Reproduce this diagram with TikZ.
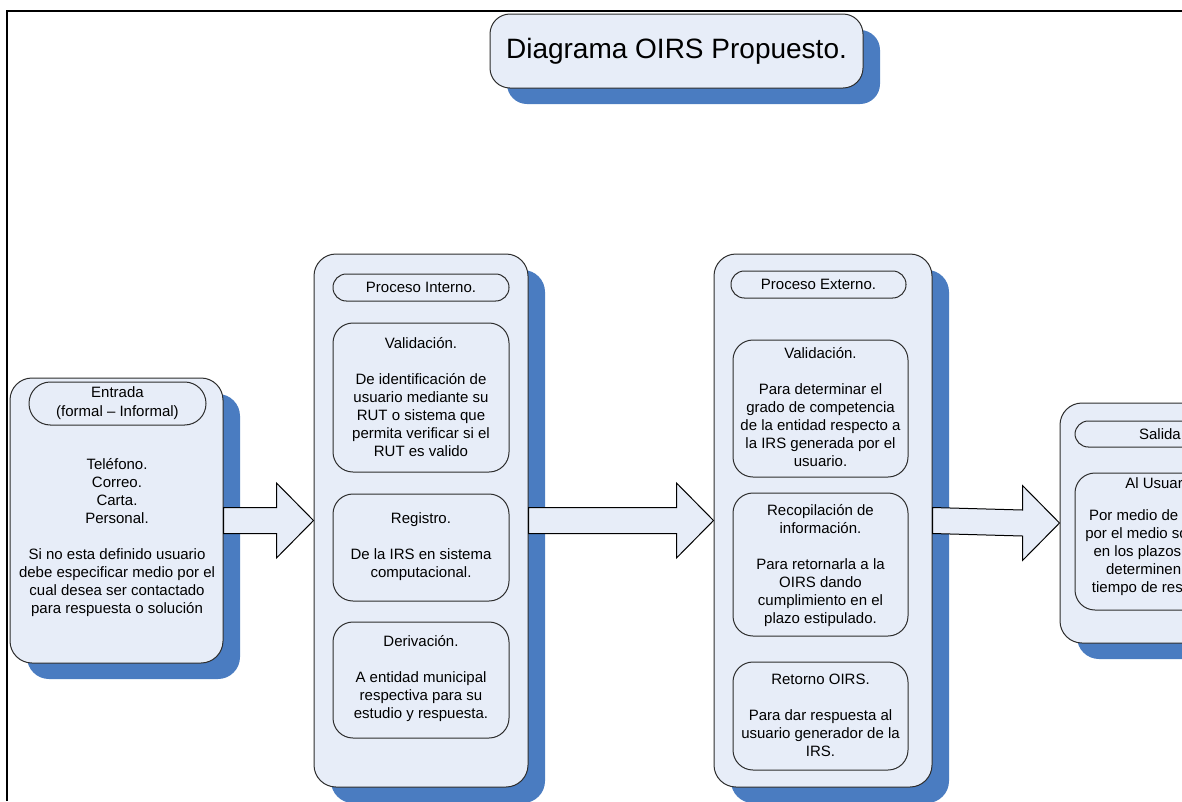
\documentclass[tikz,border=0pt]{standalone}
\usepackage{fontspec}
\setmainfont{Liberation Sans}
\usetikzlibrary{shadows}
\usetikzlibrary{calc}

\definecolor{boxfill}{RGB}{231,237,248}
\definecolor{boxshadow}{RGB}{74,124,193}
\definecolor{boxline}{RGB}{45,45,45}

\tikzset{
  panel/.style={draw=boxline, fill=boxfill, line width=0.75pt, rounded corners=16.5pt, inner sep=0pt,
    drop shadow={shadow xshift=12.75pt, shadow yshift=-12pt, fill=boxshadow, opacity=1}},
  stagebox/.style={draw=boxline, fill=boxfill, line width=0.75pt, rounded corners=15pt, inner sep=0pt},
  pill/.style={draw=boxline, fill=boxfill, line width=0.75pt, rounded corners=10pt, inner sep=0pt,
    font=\fontsize{11.25}{14.25}\selectfont, align=center},
  txt/.style={inner sep=0pt, align=center, font=\fontsize{11.25}{13.5}\selectfont},
  bigarrow/.style={draw=black, fill=boxfill, line width=0.75pt, line join=miter}
}

\begin{document}
\begin{tikzpicture}[x=0.75pt,y=0.75pt,yscale=-1,xscale=1]
\useasboundingbox (0,0) rectangle (1182,801);
\clip (0,0) rectangle (1182,801);

%Frame
\draw [line width=1.5pt] (7,801) -- (7,11) -- (1182,11);

%Title
\node (title) [panel, rounded corners=15pt, minimum width=279.75pt, minimum height=55.5pt,
  font=\fontsize{21}{25}\selectfont] at (676.5,51) {Diagrama OIRS Propuesto.};

%Shape: Entrada
\node (entrada) [panel, minimum width=159.75pt, minimum height=213.75pt] at (116.5,520.5) {};
\node (entradaHead) [pill, rounded corners=16pt, minimum width=132.75pt, minimum height=32.25pt] at (117.5,403.5) {Entrada\\(formal -- Informal)};
% Text Node
\node (entradaText) [txt] at (117,538) {Teléfono.\\Correo.\\Carta.\\Personal.\\[13.5pt]Si no esta definido usuario\\debe especificar medio por el\\cual desea ser contactado\\para respuesta o solución};

%Shape: Proceso Interno
\node (interno) [panel, minimum width=160.5pt, minimum height=399.75pt] at (421,520.5) {};
\node (internoHead) [pill, minimum width=132pt, minimum height=20.25pt] at (421,287.5) {Proceso Interno.};
\node (intValid) [stagebox, minimum width=132pt, minimum height=111.75pt] at (421,397.5) {};
\node (intRegistro) [stagebox, minimum width=132pt, minimum height=80.25pt] at (421,547.5) {};
\node (intDeriv) [stagebox, minimum width=132pt, minimum height=87pt] at (421,680) {};
% Text Node
\node (intValidText) [txt] at (421,397) {Validación.\\[13.5pt]De identificación de\\usuario mediante su\\RUT o sistema que\\permita verificar si el\\RUT es valido};
% Text Node
\node (intRegistroText) [txt] at (421,547) {Registro.\\[13.5pt]De la IRS en sistema\\computacional.};
% Text Node
\node (intDerivText) [txt] at (421,679) {Derivación.\\[13.5pt]A entidad municipal\\respectiva para su\\estudio y respuesta.};

%Shape: Proceso Externo
\node (externo) [panel, minimum width=163.5pt, minimum height=399.75pt] at (823,520.5) {};
\node (externoHead) [pill, minimum width=131.25pt, minimum height=20.25pt] at (818.5,284.5) {Proceso Externo.};
\node (extValid) [stagebox, minimum width=131.25pt, minimum height=102.75pt] at (820.5,408.5) {};
\node (extRecop) [stagebox, minimum width=131.25pt, minimum height=107.25pt] at (820.5,564.5) {};
\node (extRetorno) [stagebox, minimum width=131.25pt, minimum height=81pt] at (820.5,716) {};
% Text Node
\node (extValidText) [txt] at (820.5,407) {Validación.\\[13.5pt]Para determinar el\\grado de competencia\\de la entidad respecto a\\la IRS generada por el\\usuario.};
% Text Node
\node (extRecopText) [txt] at (820.5,566) {Recopilación de\\información.\\[13.5pt]Para retornarla a la\\OIRS dando\\cumplimiento en el\\plazo estipulado.};
% Text Node
\node (extRetornoText) [txt] at (820.5,715) {Retorno OIRS.\\[13.5pt]Para dar respuesta al\\usuario generador de la\\IRS.};

%Shape: Salida
\node (salida) [panel, minimum width=153pt, minimum height=180pt] at (1162,523) {};
\node (salidaHead) [pill, minimum width=130.5pt, minimum height=19.5pt] at (1162,434) {Salida.};
\node (salUsuario) [stagebox, minimum width=130.5pt, minimum height=102.75pt] at (1162,541.5) {};
% Text Node
\node (salUsuarioText) [txt] at (1162,536.5) {Al Usuario.\\[11pt]Por medio de llamada\\por el medio solicitado,\\en los plazos que se\\determinen en el\\tiempo de respuesta.};

%Block arrows
\foreach \from/\to in {entrada/interno, interno/externo, externo/salida}{
  \draw [bigarrow] ($(\from.east)+(0,-13)$) -- ($(\to.west)+(-37,-13)$) -- ($(\to.west)+(-37,-37.5)$)
    -- (\to.west) -- ($(\to.west)+(-37,37.5)$) -- ($(\to.west)+(-37,13)$) -- ($(\from.east)+(0,13)$) -- cycle;
}

\end{tikzpicture}
\end{document}
